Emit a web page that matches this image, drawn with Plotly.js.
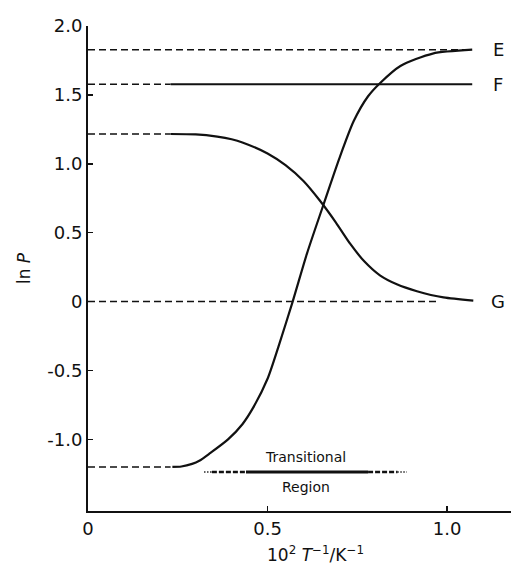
<!DOCTYPE html>
<html>
<head>
<meta charset="utf-8">
<script src="https://cdn.plot.ly/plotly-3.0.1.min.js"></script>
<style>html,body{margin:0;padding:0;background:#fff;}#chart{width:511px;height:570px;}</style>
</head>
<body>
<div id="chart"></div>
<script>
// Curve E (rising sigmoid)
const eX = [0.235, 0.26, 0.29, 0.31, 0.34, 0.39, 0.43, 0.46, 0.50, 0.53, 0.57, 0.61, 0.654, 0.70, 0.74, 0.78, 0.813, 0.87, 0.96, 1.07];
const eY = [-1.20, -1.197, -1.178, -1.155, -1.10, -1.00, -0.89, -0.77, -0.56, -0.33, 0.0, 0.35, 0.69, 1.04, 1.31, 1.49, 1.585, 1.71, 1.80, 1.828];
// Curve G (falling sigmoid)
const gX = [0.23, 0.30, 0.36, 0.40, 0.43, 0.50, 0.55, 0.60, 0.645, 0.69, 0.73, 0.77, 0.813, 0.86, 0.916, 0.99, 1.073];
const gY = [1.216, 1.213, 1.197, 1.178, 1.155, 1.075, 0.99, 0.875, 0.735, 0.575, 0.42, 0.29, 0.19, 0.125, 0.075, 0.03, 0.007];
// Limiting levels
const levelE = 1.828, levelF = 1.578, levelGhigh = 1.216, levelGlow = 0.0, levelElow = -1.20;
const curveStart = 0.23, curveEnd = 1.07, zeroDashEnd = 0.98;
// Transitional region bar
const regionX = [0.324, 0.345, 0.44, 0.78, 0.862, 0.888];
const regionY = -1.237;
// Axis ticks
const xTicks = [0, 0.5, 1.0];
const xTickText = ["0", "0.5", "1.0"];
const yTicks = [-1.0, -0.5, 0, 0.5, 1.0, 1.5, 2.0];
const yTickText = ["-1.0", "-0.5", "0", "0.5", "1.0", "1.5", "2.0"];
const curveLabels = ["E", "F", "G"];
const curveLabelY = [levelE, levelF, levelGlow];

const black = '#111';
const dashS = '7px,4px';
const dashLine = (x0, x1, y) => ({x:[x0,x1], y:[y,y], mode:'lines', line:{color:black, width:1.5, dash:dashS}, hoverinfo:'skip'});
const traces = [
  dashLine(0, curveEnd, levelE),
  dashLine(0, curveStart, levelF),
  {x:[curveStart, curveEnd], y:[levelF, levelF], mode:'lines', line:{color:black, width:2}},
  dashLine(0, curveStart, levelGhigh),
  dashLine(0, zeroDashEnd, levelGlow),
  dashLine(0, curveStart, levelElow),
  {x:eX, y:eY, mode:'lines', line:{color:black, width:2.2, shape:'spline', smoothing:0.7}},
  {x:gX, y:gY, mode:'lines', line:{color:black, width:2.2, shape:'spline', smoothing:0.7}},
  {x:[regionX[0], regionX[1]], y:[regionY, regionY], mode:'lines', line:{color:black, width:2, dash:'1px,2px'}},
  {x:[regionX[1], regionX[2]], y:[regionY, regionY], mode:'lines', line:{color:black, width:2.5, dash:'5px,2px'}},
  {x:[regionX[2], regionX[3]], y:[regionY, regionY], mode:'lines', line:{color:black, width:3}},
  {x:[regionX[3], regionX[4]], y:[regionY, regionY], mode:'lines', line:{color:black, width:2.5, dash:'5px,2px'}},
  {x:[regionX[4], regionX[5]], y:[regionY, regionY], mode:'lines', line:{color:black, width:2, dash:'1px,2px'}}
];

const font = 'DejaVu Sans, sans-serif';
const annotations = curveLabels.map((t, i) => ({
  x: 1.142, y: curveLabelY[i], xref:'x', yref:'y', text:t, showarrow:false,
  font:{family:font, size:18, color:black}
}));
annotations.push({x:0.607, y:-1.128, xref:'x', yref:'y', text:'Transitional', showarrow:false, font:{family:font, size:14, color:black}});
annotations.push({x:0.607, y:-1.345, xref:'x', yref:'y', text:'Region', showarrow:false, font:{family:font, size:14, color:black}});
annotations.push({x:0.537, y:-0.088, xref:'paper', yref:'paper', yanchor:'middle', text:'10<sup>2</sup> <i>T</i><sup>−1</sup>/K<sup>−1</sup>', showarrow:false, font:{family:font, size:17, color:black}});

const layout = {
  width:511, height:570,
  margin:{l:88, r:0, t:26, b:59},
  paper_bgcolor:'#fff', plot_bgcolor:'#fff',
  showlegend:false,
  xaxis:{range:[0, 1.178], showline:true, linecolor:black, linewidth:2, ticks:'inside', ticklen:5, tickwidth:1.5, tickcolor:black,
    tickvals:xTicks, ticktext:xTickText, showgrid:false, zeroline:false, tickfont:{family:font, size:18, color:black}},
  yaxis:{range:[-1.52, 2.0], showline:true, linecolor:black, linewidth:2, ticks:'inside', ticklen:5, tickwidth:1.5, tickcolor:black,
    tickvals:yTicks, ticktext:yTickText, showgrid:false, zeroline:false, tickfont:{family:font, size:18, color:black},
    title:{text:'ln <i>P</i>', font:{family:font, size:17, color:black}, standoff:12}},
  annotations: annotations
};
Plotly.newPlot('chart', traces, layout, {displayModeBar:false, staticPlot:true});
</script>
</body>
</html>
